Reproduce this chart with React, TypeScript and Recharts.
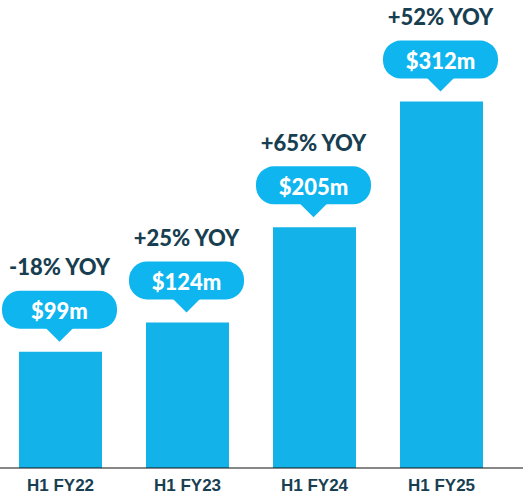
import { BarChart, Bar, XAxis, YAxis, LabelList } from "recharts"

const periods = ["H1 FY22", "H1 FY23", "H1 FY24", "H1 FY25"]
const revenue = [99, 124, 205, 312]
const revenueLabels = ["$99m", "$124m", "$205m", "$312m"]
const yoyLabels = ["-18% YOY", "+25% YOY", "+65% YOY", "+52% YOY"]

const data = periods.map((period, i) => ({
  period,
  revenue: revenue[i],
  label: revenueLabels[i],
  yoy: yoyLabels[i],
}))

const BLUE = "#13b3e9"
const CALLOUT = "#0fb5ee"
const NAVY = "#183f51"
const FONT = "Lato, 'Open Sans', sans-serif"

function Callout(props: any) {
  const { x, y, width, index } = props
  const cx = x + width / 2 - 1
  const w = 115
  const h = 38
  const bottom = y - 23
  const top = bottom - h
  const tip = y - 10
  return (
    <g>
      <text
        x={cx}
        y={y - 85}
        textAnchor="middle"
        dominantBaseline="central"
        fill={NAVY}
        fontFamily={FONT}
        fontWeight={900}
        fontSize={22}
      >
        {yoyLabels[index]}
      </text>
      <rect x={cx - w / 2} y={top} width={w} height={h} rx={18} fill={CALLOUT} />
      <path d={`M${cx - 14},${bottom - 1} L${cx + 14},${bottom - 1} L${cx},${tip} Z`} fill={CALLOUT} />
      <text
        x={cx}
        y={top + h / 2 + 1}
        textAnchor="middle"
        dominantBaseline="central"
        fill="#ffffff"
        fontFamily={FONT}
        fontWeight={900}
        fontSize={22}
      >
        {revenueLabels[index]}
      </text>
    </g>
  )
}

export default function App() {
  return (
    <div style={{ position: "absolute", left: -3, top: 0 }}>
      <BarChart
        width={526}
        height={495}
        data={data}
        margin={{ top: 10, right: 0, bottom: 0, left: 0 }}
      >
        <XAxis
          dataKey="period"
          height={27}
          padding={{ left: 0, right: 18 }}
          axisLine={{ stroke: "#111111", strokeWidth: 1.2 }}
          tickLine={false}
          tickMargin={5}
          interval={0}
          tick={{
            fill: NAVY,
            fontSize: 17,
            fontWeight: 700,
            fontFamily: "'Liberation Sans', Arial, sans-serif",
          }}
        />
        <YAxis hide domain={[0, 390]} />
        <Bar dataKey="revenue" fill={BLUE} barSize={83} isAnimationActive={false}>
          <LabelList dataKey="label" content={<Callout />} />
        </Bar>
      </BarChart>
    </div>
  )
}
